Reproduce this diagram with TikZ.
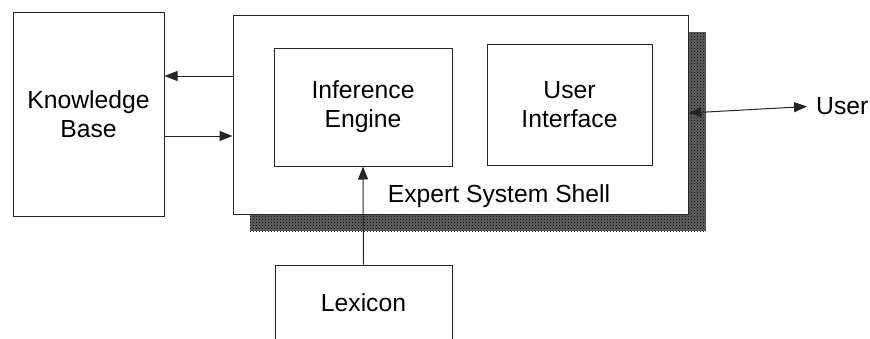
\documentclass[tikz,border=0pt]{standalone}
\usepackage{fontspec}
\setmainfont{Liberation Sans}
\usetikzlibrary{arrows.meta,patterns}
\tikzset{
  box/.style={draw=black!85, line width=1pt, fill=white, rectangle, align=center,
              inner sep=0pt, font=\fontsize{24.7}{29}\selectfont},
  label/.style={inner sep=0pt, font=\fontsize{24.7}{29}\selectfont},
  tip/.style={Triangle[length=13pt,width=10pt]},
  arr/.style={draw=black!85, line width=1pt, -{Triangle[length=13pt,width=10pt]}},
  biarr/.style={draw=black!85, line width=1pt,
                {Triangle[length=13pt,width=10pt]}-{Triangle[length=13pt,width=10pt]}},
  shadowfill/.style={fill=black!62, postaction={pattern=crosshatch dots, pattern color=black}}
}
\begin{document}
\begin{tikzpicture}[x=1pt,y=-1pt]
  \useasboundingbox (0,0) rectangle (870,338);

  % drop shadow of the shell
  \path[shadowfill] (250,32) rectangle (706,231);

  % main blocks
  \node[box, minimum width=151, minimum height=204] (kb) at (88.5,114) {Knowledge\\Base};
  \node[box, minimum width=455, minimum height=199] (shell) at (460.5,114.5) {};
  \node[box, minimum width=178, minimum height=118] (ie) at (363,107) {Inference\\Engine};
  \node[box, minimum width=165, minimum height=121] (ui) at (569.5,104.5) {User\\Interface};
  \node[box, minimum width=177, minimum height=76] (lex) at (363.5,303) {Lexicon};
  \node[label, anchor=base] (shelltitle) at (499,202) {Expert System Shell};
  \node[label, anchor=west] (user) at (816,106) {User};

  % helper heights for the horizontal connectors
  \coordinate (yout) at (0,76);
  \coordinate (yin) at (0,136);
  \coordinate (yuser) at (0,113);

  % connectors
  \draw[arr] (shell.west |- yout) -- (kb.east |- yout);
  \draw[arr] (kb.east |- yin) -- (shell.west |- yin);
  \draw[biarr, shorten >=9pt] (shell.east |- yuser) -- (user.west);
  \draw[arr] (lex.north) -- (ie.south);
\end{tikzpicture}
\end{document}
